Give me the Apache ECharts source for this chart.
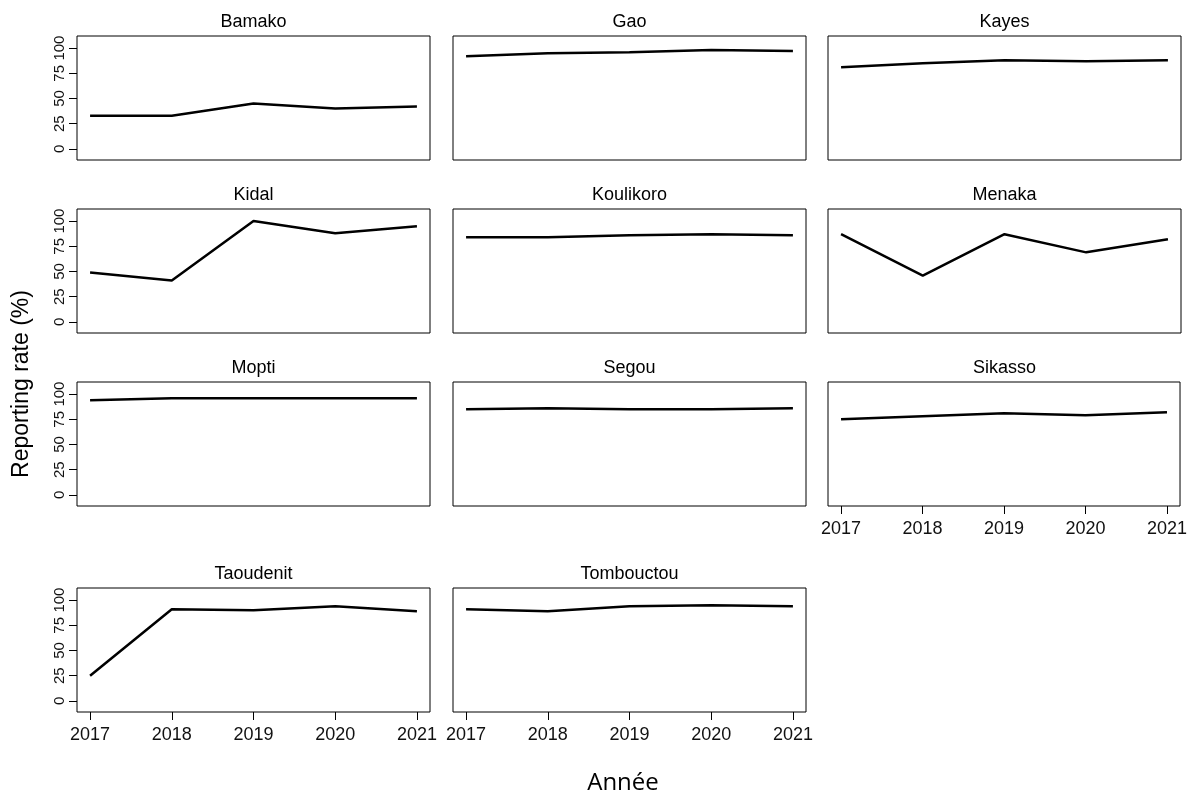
<!DOCTYPE html>
<html>
<head>
<meta charset="utf-8">
<script src="https://cdn.jsdelivr.net/npm/echarts@6/dist/echarts.min.js"></script>
<style>
  html, body { margin: 0; padding: 0; background: #fff; }
  #chart { width: 1190px; height: 796px; }
</style>
</head>
<body>
<div id="chart"></div>
<script>
// Reporting rate (%) per region, 2017-2021
const years = [2017, 2018, 2019, 2020, 2021];
const yTicks = [0, 25, 50, 75, 100];

const regions = ['Bamako', 'Gao', 'Kayes', 'Kidal', 'Koulikoro', 'Menaka',
                 'Mopti', 'Segou', 'Sikasso', 'Taoudenit', 'Tombouctou'];

const bamako     = [33, 33, 45, 40, 42];
const gao        = [92, 95, 96, 98, 97];
const kayes      = [81, 85, 88, 87, 88];
const kidal      = [49, 41, 100, 88, 95];
const koulikoro  = [84, 84, 86, 87, 86];
const menaka     = [87, 46, 87, 69, 82];
const mopti      = [94, 96, 96, 96, 96];
const segou      = [85, 86, 85, 85, 86];
const sikasso    = [75, 78, 81, 79, 82];
const taoudenit  = [25, 91, 90, 94, 89];
const tombouctou = [91, 89, 94, 95, 94];

const values = [bamako, gao, kayes, kidal, koulikoro, menaka,
                mopti, segou, sikasso, taoudenit, tombouctou];

// panel layout (3 columns, 4 rows)
const colLeft = [77, 453, 828];
const rowTop = [36, 209, 382, 588];
const panelW = 353, panelH = 124;
// panels that carry x-axis labels
const showX = new Set(['Sikasso', 'Taoudenit', 'Tombouctou']);

const FONT = 'Liberation Sans, Arial, sans-serif';

const grids = [], xAxes = [], yAxes = [], series = [], titles = [];

regions.forEach((name, i) => {
  const col = i % 3, row = Math.floor(i / 3);
  const left = colLeft[col], top = rowTop[row];
  grids.push({
    left: left, top: top, width: panelW, height: panelH,
    show: true, borderColor: '#000', borderWidth: 1, backgroundColor: 'transparent'
  });
  const withX = showX.has(name);
  xAxes.push({
    type: 'value', gridIndex: i, min: 2016.84, max: 2021.16, position: 'bottom',
    axisLine: { show: false, onZero: false },
    axisTick: { show: withX, length: 8, customValues: years,
                lineStyle: { color: '#000', width: 1 } },
    axisLabel: { show: withX, customValues: years, margin: 14,
                 fontFamily: FONT, fontSize: 18, color: '#111',
                 formatter: v => String(v) },
    splitLine: { show: false }
  });
  const withY = col === 0;
  yAxes.push({
    type: 'value', gridIndex: i, min: -11, max: 112, position: 'left',
    axisLine: { show: false, onZero: false },
    axisTick: { show: withY, length: 8, customValues: yTicks,
                lineStyle: { color: '#000', width: 1 } },
    axisLabel: { show: withY, customValues: yTicks, rotate: 90, margin: 10,
                 fontFamily: FONT, fontSize: 15, color: '#111',
                 formatter: v => String(v) },
    splitLine: { show: false }
  });
  series.push({
    type: 'line', xAxisIndex: i, yAxisIndex: i,
    data: years.map((y, k) => [y, values[i][k]]),
    symbol: 'none', lineStyle: { color: '#000', width: 2.5 },
    silent: true
  });
  titles.push({
    text: name, left: left + panelW / 2, top: top - 23, textAlign: 'center', padding: 0,
    textStyle: { fontFamily: FONT, fontSize: 18, fontWeight: 'normal', color: '#000' }
  });
});

const chart = echarts.init(document.getElementById('chart'), null, { renderer: 'canvas' });
chart.setOption({
  animation: false,
  backgroundColor: '#fff',
  title: titles,
  grid: grids,
  xAxis: xAxes,
  yAxis: yAxes,
  series: series,
  graphic: [
    {
      type: 'text', x: 22, y: 384, rotation: Math.PI / 2,
      style: { text: 'Reporting rate (%)', fontFamily: FONT, fontSize: 23,
               fill: '#000', textAlign: 'center', textVerticalAlign: 'middle' }
    },
    {
      type: 'text', x: 623, y: 783,
      style: { text: 'Année', fontFamily: 'Open Sans, sans-serif', fontSize: 24,
               fill: '#000', textAlign: 'center', textVerticalAlign: 'middle' }
    }
  ]
});
</script>
</body>
</html>
